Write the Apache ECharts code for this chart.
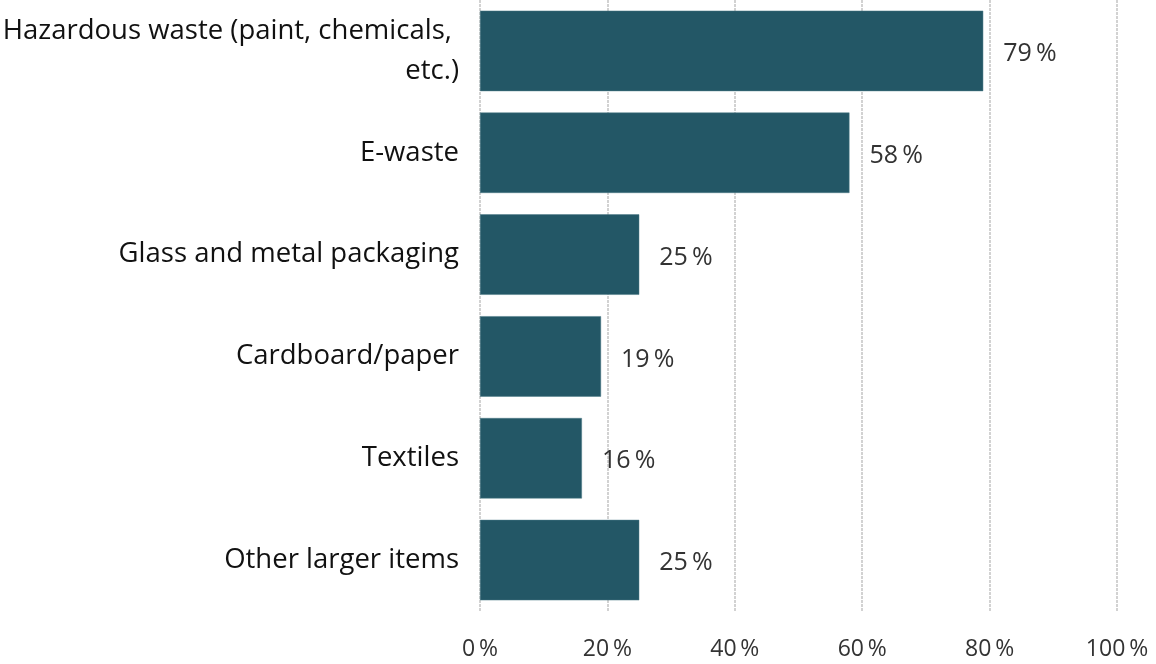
<!DOCTYPE html>
<html>
<head>
<meta charset="utf-8">
<script src="https://cdn.jsdelivr.net/npm/echarts@6/dist/echarts.min.js"></script>
<style>
  html, body { margin: 0; padding: 0; background: #fff; }
  #chart { width: 1156px; height: 664px; }
</style>
</head>
<body>
<div id="chart"></div>
<script>
// Waste categories, top to bottom
const categories = [
  'Hazardous waste (paint, chemicals, etc.)',
  'E-waste',
  'Glass and metal packaging',
  'Cardboard/paper',
  'Textiles',
  'Other larger items'
];
// Share of respondents (%)
const shares = [79, 58, 25, 19, 16, 25];
// Axis ticks
const xTicks = [0, 20, 40, 60, 80, 100];

const chart = echarts.init(document.getElementById('chart'));
const fontFamily = '"Open Sans", "Liberation Sans", sans-serif';

chart.setOption({
  animation: false,
  grid: {
    left: 480, right: 39, top: 0, bottom: 53,
    containLabel: false,
    outerBoundsMode: 'none'
  },
  xAxis: {
    type: 'value',
    min: xTicks[0],
    max: xTicks[xTicks.length - 1],
    interval: 20,
    axisLine: { show: false },
    axisTick: { show: false },
    axisLabel: {
      formatter: v => v + '\u2009%',
      color: '#333333',
      fontSize: 23,
      fontFamily: fontFamily,
      margin: 27
    },
    splitLine: {
      show: true,
      lineStyle: { color: '#d2d2d2', width: 2, type: [3, 1] }
    }
  },
  yAxis: {
    type: 'category',
    inverse: true,
    data: categories,
    axisLine: { show: false },
    axisTick: { show: false },
    axisLabel: {
      color: '#111111',
      fontSize: 27.5,
      fontFamily: fontFamily,
      margin: 21,
      width: 470,
      overflow: 'break',
      lineHeight: 40,
      padding: [0, 0, 8, 0]
    }
  },
  series: [{
    type: 'bar',
    data: shares,
    barCategoryGap: '21%',
    itemStyle: { color: '#235766', borderColor: '#4d7a87', borderWidth: 0.5 },
    label: {
      show: true,
      position: 'right',
      distance: 20,
      offset: [0, 3],
      formatter: p => p.value + '\u2009%',
      color: '#333333',
      fontSize: 25,
      fontFamily: fontFamily
    }
  }]
});
</script>
</body>
</html>
